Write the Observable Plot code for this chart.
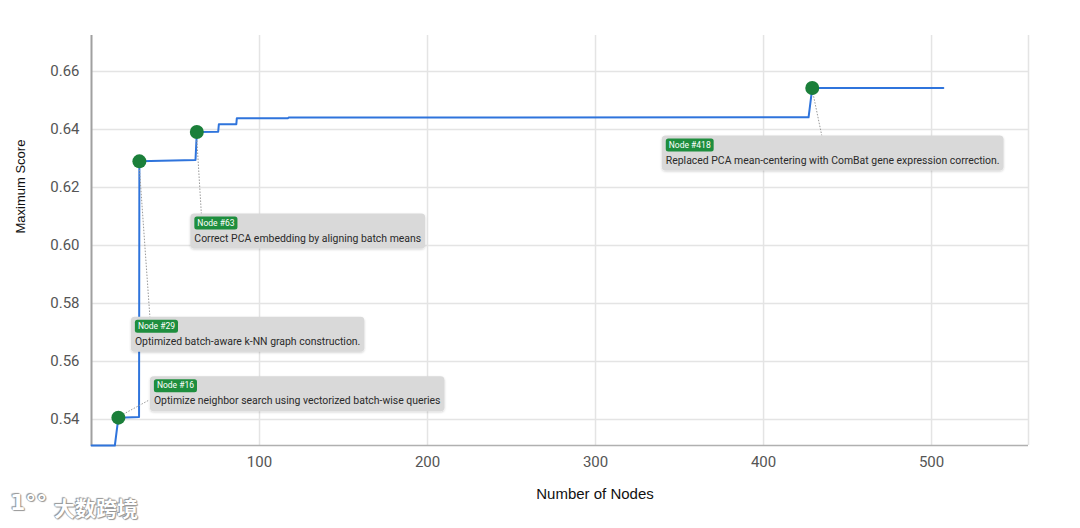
<!DOCTYPE html>
<html>
<head>
<meta charset="utf-8">
<script src="https://cdn.jsdelivr.net/npm/d3@7"></script>
<script src="https://cdn.jsdelivr.net/npm/@observablehq/plot@0.6"></script>
<style>
  html, body { margin: 0; padding: 0; background: #fff; }
  #chart { position: relative; width: 1080px; height: 528px; overflow: hidden; }
  #chart svg { display: block; }
  .wm { position: absolute; left: 54px; top: 492px; font-family: "Noto Sans CJK SC", sans-serif; font-size: 21px; font-weight: 700; color: #fff;
        text-shadow: 0 0 1px #8a8a8a, 0 0 1px #8a8a8a, 1px 1px 1px #9a9a9a, -1px -1px 1px #9a9a9a; }
  .wm-logo { position: absolute; left: 10px; top: 490px; font-family: "DejaVu Sans", sans-serif; font-size: 22px; font-weight: 700; color: #fff;
        text-shadow: 0 0 1px #8a8a8a, 0 0 1px #8a8a8a, 1px 1px 1px #9a9a9a, -1px -1px 1px #9a9a9a; }
</style>
</head>
<body>
<div id="chart"></div>
<script>
// ---- data ----
const nodeCount = [0, 13.9, 16, 28.3, 28.5, 61.9, 62.7, 75.4, 75.8, 86.2, 86.5, 117, 117.3, 426.8, 429, 507];
const maxScore  = [0.531, 0.531, 0.5406, 0.5408, 0.629, 0.6295, 0.6391, 0.6392, 0.6418, 0.6418, 0.6439, 0.6439, 0.6441, 0.6442, 0.6543, 0.6543];

const highlightX = [16, 28.5, 62.7, 429];
const highlightY = [0.5406, 0.629, 0.6391, 0.6543];
const highlightIds = ["Node #16", "Node #29", "Node #63", "Node #418"];
const highlightText = [
  "Optimize neighbor search using vectorized batch-wise queries",
  "Optimized batch-aware k-NN graph construction.",
  "Correct PCA embedding by aligning batch means",
  "Replaced PCA mean-centering with ComBat gene expression correction."
];

const xTicks = [100, 200, 300, 400, 500];
const yTicks = [0.54, 0.56, 0.58, 0.60, 0.62, 0.64, 0.66];
const xDomain = [0, 557.7];
const yDomain = [0.531, 0.6724];
const xLabel = "Number of Nodes";
const yLabel = "Maximum Score";

// ---- layout (pixel offsets of callout boxes from their dot) ----
const boxOffset = [[32, -41], [-8, 156], [-6, 82], [-150, 48]];
const leaderEnd = [[31, -17], [11, 156], [5, 82], [10, 48]];

const line = nodeCount.map((x, i) => ({x, y: maxScore[i]}));
const hits = highlightX.map((x, i) => ({x, y: highlightY[i], id: highlightIds[i], text: highlightText[i]}));

const chart = Plot.plot({
  width: 1080,
  height: 528,
  marginLeft: 91,
  marginRight: 52,
  marginTop: 35,
  marginBottom: 83,
  style: {fontFamily: "Roboto, sans-serif", background: "#fff", overflow: "visible"},
  x: {domain: xDomain},
  y: {domain: yDomain},
  marks: [
    Plot.gridX(xTicks, {stroke: "#e4e4e4", strokeOpacity: 1, strokeWidth: 1.5}),
    Plot.gridY(yTicks, {stroke: "#e4e4e4", strokeOpacity: 1, strokeWidth: 1.5}),
    Plot.ruleX([xDomain[1]], {stroke: "#e4e4e4", strokeWidth: 1.5}),
    Plot.ruleY([yDomain[0]], {stroke: "#b0b0b0", strokeWidth: 1.5}),
    Plot.ruleX([xDomain[0]], {stroke: "#a0a0a0", strokeWidth: 2}),
    Plot.axisX(xTicks, {tickSize: 0, tickPadding: 11, fontSize: 15, fill: "#555", label: null, tickFormat: d => String(d)}),
    Plot.axisY(yTicks, {tickSize: 0, tickPadding: 12, fontSize: 15, fill: "#555", label: null, tickFormat: d3.format(".2f")}),
    Plot.text([xLabel], {frameAnchor: "bottom", text: d => d, dx: 35, dy: 53, fontSize: 15, fill: "#111", fontFamily: "Liberation Sans, Arial, sans-serif"}),
    Plot.text([yLabel], {frameAnchor: "left", text: d => d, dx: -71, dy: -7, rotate: -90, fontSize: 13, fill: "#111", fontFamily: "Liberation Sans, Arial, sans-serif"}),
    Plot.line(line, {x: "x", y: "y", stroke: "#2f74dc", strokeWidth: 2, curve: "linear"}),
    Plot.dot(hits, {x: "x", y: "y", r: 7, fill: "#1b7f3a", stroke: "none"})
  ]
});

const host = document.getElementById("chart");
host.append(chart);

const svg = d3.select(chart);
const sx = chart.scale("x"), sy = chart.scale("y");

// leader lines under the dots
const leaders = svg.insert("g", "g[aria-label=dot]").attr("aria-label", "leaders");
const callouts = svg.append("g").attr("aria-label", "callouts").attr("text-anchor", "start");

const defs = svg.append("defs");
const f = defs.append("filter").attr("id", "shadow").attr("x", "-10%").attr("y", "-30%").attr("width", "120%").attr("height", "160%");
f.append("feDropShadow").attr("dx", 0).attr("dy", 1).attr("stdDeviation", 1.2).attr("flood-color", "#000").attr("flood-opacity", 0.18);

hits.forEach((d, i) => {
  const px = sx.apply(d.x), py = sy.apply(d.y);
  leaders.append("line")
    .attr("x1", px).attr("y1", py)
    .attr("x2", px + leaderEnd[i][0]).attr("y2", py + leaderEnd[i][1])
    .attr("stroke", "#999").attr("stroke-width", 1).attr("stroke-dasharray", "1.5,1.5");

  const g = callouts.append("g").attr("transform", `translate(${px + boxOffset[i][0]},${py + boxOffset[i][1]})`);
  const box = g.append("rect").attr("rx", 4).attr("ry", 4).attr("fill", "#d9d9d9").attr("filter", "url(#shadow)");
  const badge = g.append("rect").attr("x", 4).attr("y", 3).attr("rx", 2.5).attr("ry", 2.5).attr("height", 13).attr("fill", "#1e8e3e");
  const bt = g.append("text").attr("x", 7).attr("y", 9.8).attr("dominant-baseline", "middle").attr("text-anchor", "start")
    .attr("font-family", "Roboto, sans-serif").attr("font-size", 8.5).attr("fill", "#fff").text(d.id);
  const dt = g.append("text").attr("x", 4).attr("y", 25.5).attr("dominant-baseline", "middle").attr("text-anchor", "start")
    .attr("font-family", "Roboto, sans-serif").attr("font-size", 10.45).attr("fill", "#2a2a2a").text(d.text);
  const bw = bt.node().getComputedTextLength();
  badge.attr("width", bw + 6);
  const tw = dt.node().getComputedTextLength();
  box.attr("width", tw + 8).attr("height", 35);
});

const wmLogo = document.createElement("div");
wmLogo.className = "wm-logo";
wmLogo.textContent = "1\u00B0\u00B0";
host.append(wmLogo);
const wm = document.createElement("div");
wm.className = "wm";
wm.textContent = "大数跨境";
host.append(wm);
</script>
</body>
</html>
